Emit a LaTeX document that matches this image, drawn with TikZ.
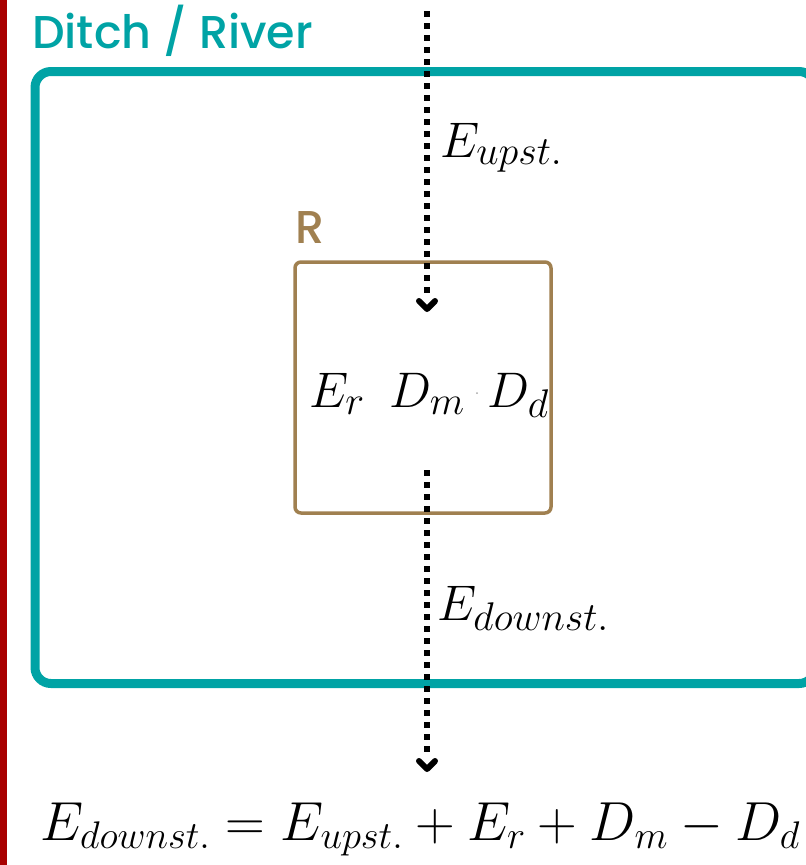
\RequirePackage{fix-cm}
\documentclass[tikz,border=0pt]{standalone}
\usepackage{fontspec}
\usetikzlibrary{arrows.meta}
\newfontfamily\titlefont{Poppins Medium}
\DeclareMathSizes{50}{50}{40}{30}
\DeclareMathSizes{55}{55}{38.5}{28}
\definecolor{teal1}{HTML}{00A3A5}
\definecolor{brown1}{HTML}{A08050}
\definecolor{red1}{HTML}{A80000}
\begin{document}
\begin{tikzpicture}[x=1pt,y=-1pt,
  flow/.style={line width=6pt,dash pattern=on 6pt off 6pt,black},
  chev/.style={line width=6pt,black,line join=round,line cap=round},
  lbl/.style={inner sep=0pt,font=\fontsize{50}{60}\selectfont},
  ttl/.style={inner sep=0pt,font=\titlefont\fontsize{46}{55}\selectfont}]
\useasboundingbox (0,0) rectangle (806,865);
\clip (0,0) rectangle (806,865);
\fill[red1] (0,0) rectangle (7,865);
% outer box
\draw[teal1,line width=9pt,rounded corners=16pt] (35,71.5) rectangle (815,683.5);
\node[ttl,text=teal1,anchor=base west] (title) at (32,48) {Ditch / River};
% inner box
\draw[brown1,line width=3.5pt,rounded corners=6pt] (295,262) rectangle (551,513);
\node[ttl,text=brown1,anchor=base west] (rlab) at (295,243) {R};
% inner texts
\node[lbl,anchor=base west] (er) at (309,407) {$E_r$};
\node[lbl,anchor=base west] (dm) at (389,407) {$D_m$};
\node[lbl,anchor=base west] (dd) at (487,407) {$D_d$};
\fill[black!35] (477,393) circle (1pt);
% flows
\coordinate (a1) at (427,11);
\coordinate (a2) at (427,296);
\coordinate (h1) at (427,309);
\coordinate (b1) at (427,470);
\coordinate (b2) at (427,756);
\coordinate (h2) at (427,769);
\draw[flow] (a1) -- (a2);
\draw[chev] ([shift={(-8,-8)}]h1) -- (h1) -- ([shift={(8,-8)}]h1);
\draw[flow] (b1) -- (b2);
\draw[chev] ([shift={(-8,-8)}]h2) -- (h2) -- ([shift={(8,-8)}]h2);
\node[lbl,anchor=base west] (eup) at (440,157) {$E_{upst.}$};
\node[lbl,anchor=base west] (edown) at (437,620) {$E_{downst.}$};
% equation
\node[inner sep=0pt,anchor=base west,font=\fontsize{55}{66}\selectfont] (eq) at (40,840)
  {$E_{downst.} = E_{upst.} + E_r + D_m - D_d$};
\end{tikzpicture}
\end{document}
